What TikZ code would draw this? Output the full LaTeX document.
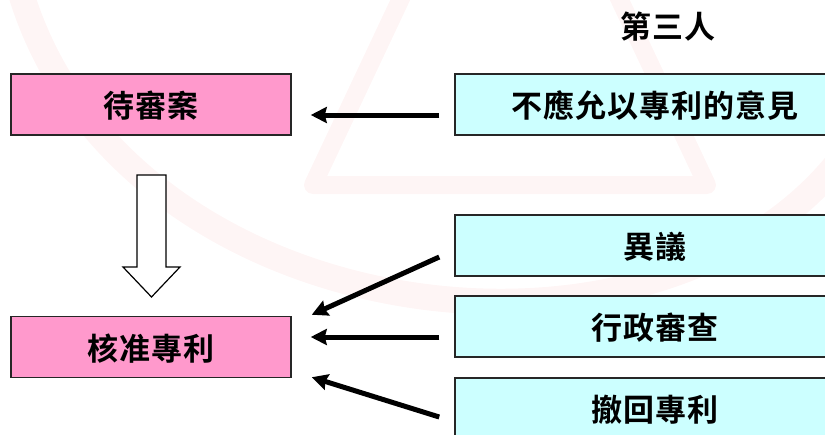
\documentclass[tikz,border=0pt]{standalone}
\usepackage{fontspec}
\usepackage{tikz}
\usetikzlibrary{calc, arrows.meta, positioning}
\newfontfamily\zhfont{Noto Sans CJK TC}[BoldFont={* Bold}, LetterSpace=3]
\definecolor{boxpink}{HTML}{FF99CC}
\definecolor{boxcyan}{HTML}{CCFFFF}
\definecolor{markred}{HTML}{FEF5F5}
\tikzset{
  zhtext/.style={font=\zhfont\bfseries\fontsize{31}{33}\selectfont},
  office/.style={zhtext, draw=black!85, line width=1.5pt, fill=boxpink, minimum width=280pt, minimum height=61pt, inner sep=0pt, text height=30pt, text depth=3.5pt},
  party/.style={office, fill=boxcyan, minimum width=400pt},
  push/.style={line width=5pt, -{Stealth[length=16pt, width=16pt, inset=2pt]}}
}

\begin{document}
\begin{tikzpicture}[x=1pt, y=-1pt]
        \useasboundingbox (0,0) rectangle (825,434);
        \clip (0,0) rectangle (825,434);
        \draw[markred, line width=26pt] (20,-10) .. controls (120,330) and (650,400) .. (840,160);
        \draw[markred, line width=18pt, line join=round] (510,-233) -- (313,185) -- (707,185) -- cycle;
        \node[office] (pending) at (151,104.5) {待審案};
        \node[office] (grant) at (151,347) {核准專利};
        \node[zhtext] (third) at (668,27) {第三人};
        \node[party] (opinion) at (655,104.5) {不應允以專利的意見};
        \node[party] (opposition) at (655,245.5) {異議};
        \node[party] (review) at (655,326.5) {行政審查};
        \node[party] (withdraw) at (655,408.5) {撤回專利};
        \draw[line width=1.2pt, fill=white] (137,175) -- (166,175) -- (166,267) -- (180,267) -- (151.5,297) -- (123,267) -- (137,267) -- cycle;
        \draw[push] ($(opinion.west)+(-15,10.5)$) -- ($(pending.east)+(19,10.5)$);
        \draw[push] ($(opposition.west)+(-15,11.5)$) -- ($(grant.north east)+(20,-1)$);
        \draw[push] ($(review.west)+(-15,10.5)$) -- ($(grant.east)+(19,-10)$);
        \draw[push] ($(withdraw.west)+(-15,8.5)$) -- ($(grant.south east)+(20,-1)$);
\end{tikzpicture}
\end{document}
